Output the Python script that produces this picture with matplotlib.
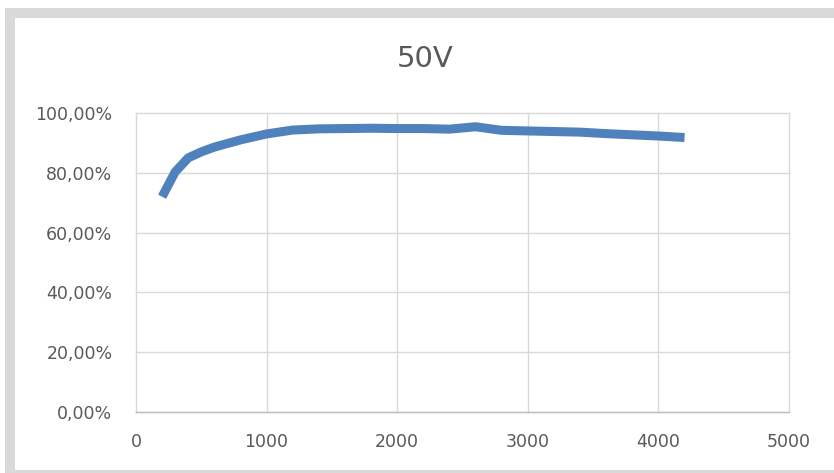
import matplotlib
matplotlib.use('Agg')
import matplotlib.pyplot as plt
from matplotlib.patches import Rectangle
from matplotlib.ticker import FuncFormatter

# values
power = [200, 300, 400, 500, 600, 800, 1000, 1200, 1400, 1600, 1800, 2000, 2200,
         2400, 2600, 2800, 3000, 3200, 3400, 3600, 3800, 4000, 4200]
efficiency = [72.0, 80.3, 85.0, 87.0, 88.6, 91.0, 93.0, 94.3, 94.7, 94.8, 94.9, 94.8, 94.8,
              94.6, 95.4, 94.2, 94.0, 93.8, 93.6, 93.1, 92.7, 92.3, 91.8]
x_ticks = [0, 1000, 2000, 3000, 4000, 5000]
y_ticks = [0, 20, 40, 60, 80, 100]
title = '50V'

W, H = 834, 473
fig = plt.figure(figsize=(W / 100, H / 100), dpi=100, facecolor='white')

# light gray chart frame (left, top, bottom visible)
frame = '#d9d9d9'
fig.add_artist(Rectangle((5 / W, 0), 10 / W, 1 - 8 / H, transform=fig.transFigure,
                         facecolor=frame, edgecolor='none'))
fig.add_artist(Rectangle((5 / W, 1 - 18 / H), 1, 10 / H, transform=fig.transFigure,
                         facecolor=frame, edgecolor='none'))
fig.add_artist(Rectangle((5 / W, 0), 1, 3 / H, transform=fig.transFigure,
                         facecolor=frame, edgecolor='none'))

ax = fig.add_axes([136 / W, 1 - 412 / H, (789 - 136) / W, (412 - 113) / H])
ax.plot(power, efficiency, color='#4F81BD', linewidth=6.5,
        solid_capstyle='butt', solid_joinstyle='round', zorder=3)

ax.set_xlim(0, 5000)
ax.set_ylim(0, 100)
ax.set_xticks(x_ticks)
ax.set_yticks(y_ticks)
ax.yaxis.set_major_formatter(FuncFormatter(lambda v, p: ('%.2f%%' % v).replace('.', ',')))
ax.grid(True, color='#d9d9d9', linewidth=1.0, clip_on=False)
ax.set_axisbelow(True)
for s in ['top', 'right', 'left']:
    ax.spines[s].set_visible(False)
ax.spines['bottom'].set_color('#bfbfbf')
ax.spines['bottom'].set_linewidth(1.0)
ax.tick_params(length=0, labelsize=12.5, labelcolor='#595959')
ax.tick_params(axis='y', pad=17)
ax.tick_params(axis='x', pad=15)

fig.text(425 / W, 1 - 59 / H, title, ha='center', va='center',
         fontsize=21, color='#595959')

fig.savefig('out.png', dpi=100)
